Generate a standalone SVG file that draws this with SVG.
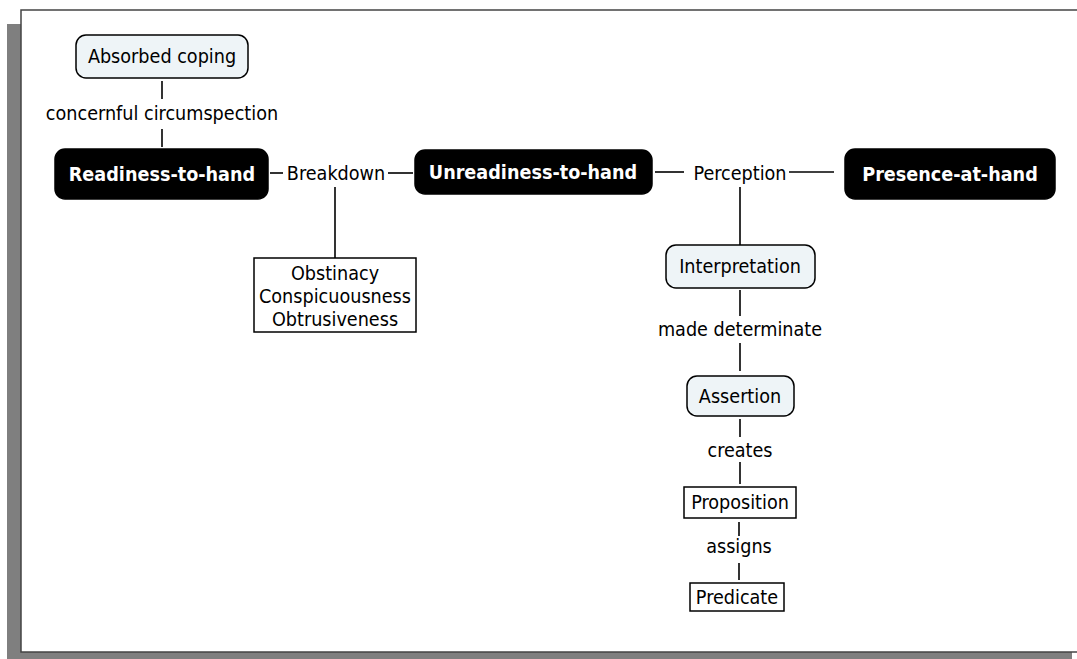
<svg xmlns="http://www.w3.org/2000/svg" width="1077" height="659" viewBox="0 0 1077 659">
<style>
text{font-family:"DejaVu Sans Condensed","DejaVu Sans",sans-serif;font-stretch:condensed;font-size:19.6px;text-anchor:middle;fill:#000}
.b{font-weight:bold;fill:#fff}
.dark{fill:#000;stroke:#000;stroke-width:1.5}
.light{fill:#eef4f7;stroke:#000;stroke-width:1.5}
.plain{fill:#fff;stroke:#000;stroke-width:1.5}
#connectors line{stroke:#000;stroke-width:1.6}
</style>
<rect x="0" y="0" width="1077" height="659" fill="#fff"/>
<rect x="7" y="24" width="1065" height="635" fill="#7f7f7f"/>
<rect x="21" y="10" width="1062" height="642" fill="#fff" stroke="#444" stroke-width="1.5"/>
<g id="connectors">
<line x1="162" y1="81" x2="162" y2="99"/>
<line x1="162" y1="129" x2="162" y2="147"/>
<line x1="270" y1="173" x2="283" y2="173"/>
<line x1="388" y1="173" x2="413" y2="173"/>
<line x1="335" y1="187" x2="335" y2="258"/>
<line x1="655" y1="172" x2="684" y2="172"/>
<line x1="789" y1="172" x2="834" y2="172"/>
<line x1="740" y1="187" x2="740" y2="245"/>
<line x1="740" y1="290" x2="740" y2="316"/>
<line x1="740" y1="343" x2="740" y2="371"/>
<line x1="740" y1="419" x2="740" y2="437"/>
<line x1="740" y1="462" x2="740" y2="484"/>
<line x1="739" y1="522" x2="739" y2="536"/>
<line x1="739" y1="563" x2="739" y2="580"/>
<text x="162" y="120">concernful circumspection</text>
<text x="336" y="180">Breakdown</text>
<text x="740" y="180">Perception</text>
<text x="740" y="336">made determinate</text>
<text x="740" y="457">creates</text>
<text x="739" y="553">assigns</text>
</g>
<g id="absorbed-coping">
<rect class="light" x="76" y="35" width="172" height="43" rx="10"/>
<text x="162" y="63">Absorbed coping</text>
</g>
<g id="readiness-to-hand">
<rect class="dark" x="55" y="149" width="213" height="50" rx="10"/>
<text class="b" x="162" y="181">Readiness-to-hand</text>
</g>
<g id="unreadiness-to-hand">
<rect class="dark" x="415" y="150" width="237" height="44" rx="10"/>
<text class="b" x="533" y="179">Unreadiness-to-hand</text>
</g>
<g id="presence-at-hand">
<rect class="dark" x="845" y="149" width="210" height="50" rx="10"/>
<text class="b" x="950" y="181">Presence-at-hand</text>
</g>
<g id="obstinacy">
<rect class="plain" x="254" y="258" width="162" height="74"/>
<text x="335" y="280">Obstinacy</text>
<text x="335" y="303">Conspicuousness</text>
<text x="335" y="326">Obtrusiveness</text>
</g>
<g id="interpretation">
<rect class="light" x="666" y="245" width="149" height="43" rx="10"/>
<text x="740" y="273">Interpretation</text>
</g>
<g id="assertion">
<rect class="light" x="687" y="376" width="107" height="40" rx="10"/>
<text x="740" y="403">Assertion</text>
</g>
<g id="proposition">
<rect class="plain" x="684" y="487" width="112" height="31"/>
<text x="740" y="509">Proposition</text>
</g>
<g id="predicate">
<rect class="plain" x="690" y="583" width="94" height="28"/>
<text x="737" y="604">Predicate</text>
</g>
</svg>
